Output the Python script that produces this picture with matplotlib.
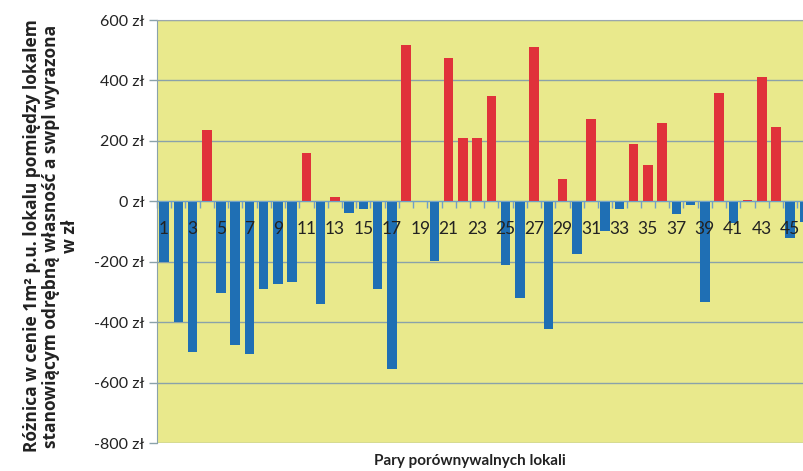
import numpy as np
import matplotlib
matplotlib.use("Agg")
import matplotlib.pyplot as plt
from matplotlib.ticker import FixedLocator

plt.rcParams['font.family'] = ['Lato', 'DejaVu Sans']

# Differences in price per m² for each pair of comparable premises (zł)
pairs = list(range(1, 47))
differences = [
    -200, -400, -500, 235, -302, -476, -506, -289, -273, -268,
    160, -340, 15, -38, -27, -289, -555, 517, 0, -197,
    473, 208, 208, 348, -211, -319, 512, -424, 75, -175,
    271, -97, -26, 189, 120, 260, -42, -13, -332, 357,
    -72, 5, 412, 247, -122, -67,
]
y_ticks = [-800, -600, -400, -200, 0, 200, 400, 600]
y_tick_labels = [f"{v} zł" for v in y_ticks]

ylabel_text = ("Różnica w cenie 1m² p.u. lokalu pomiędzy lokalem\n"
               "stanowiącym odrębną własność a swpl wyrazona\n"
               "w zł")
xlabel_text = "Pary porównywalnych lokali"

W, H = 804, 471
fig = plt.figure(figsize=(W / 100, H / 100), dpi=100)
fig.patch.set_facecolor('white')

left, right, top, bottom = 157, 804, 20, 443
ax = fig.add_axes([left / W, 1 - bottom / H, (right - left) / W, (bottom - top) / H])
ax.set_facecolor('#e9e98c')
ax.set_axisbelow(True)

blue, red = '#1f6fb4', '#e0323a'
colors = [red if v > 0 else blue for v in differences]
ax.bar(pairs, differences, width=0.67, color=colors, zorder=2)

ax.set_ylim(-800, 600)
ax.set_xlim(0.5, 45.97)

ax.set_yticks(y_ticks)
ax.set_yticklabels(y_tick_labels, fontsize=11.5, color='#222222')
ax.grid(axis='y', color='#8aa2aa', linewidth=1.0)
ax.tick_params(axis='y', direction='out', length=6, width=1, color='#8aa2aa', pad=3)

# Category axis sits on the zero line, ticks at category boundaries
ax.spines['bottom'].set_position(('data', 0))
ax.spines['bottom'].set_color('#6fa0c8')
ax.spines['bottom'].set_zorder(3)
ax.xaxis.set_major_locator(FixedLocator(np.arange(0.5, 47, 1)))
ax.tick_params(axis='x', direction='out', length=5, width=1, color='#6fa0c8', labelbottom=False)
ax.spines['left'].set_color('#8aa2aa')
ax.spines['top'].set_color('#9aa6ae')
ax.spines['right'].set_visible(False)

for p in pairs:
    if p % 2 == 1:
        ax.annotate(str(p), (p, 0), xytext=(0, -14), textcoords='offset points',
                    ha='center', va='top', fontsize=12.5, color='#222222', zorder=5)

fig.text(51 / W, 1 - 236 / H, ylabel_text, rotation=90, ha='center', va='center',
         multialignment='center', fontsize=12.5, fontweight='bold', color='#222222',
         linespacing=1.05, family=['Open Sans', 'DejaVu Sans'])
fig.text(470 / W, 1 - 461 / H, xlabel_text, ha='center', va='center',
         fontsize=11, fontweight='bold', color='#222222')

fig.savefig('out.png', dpi=100)
